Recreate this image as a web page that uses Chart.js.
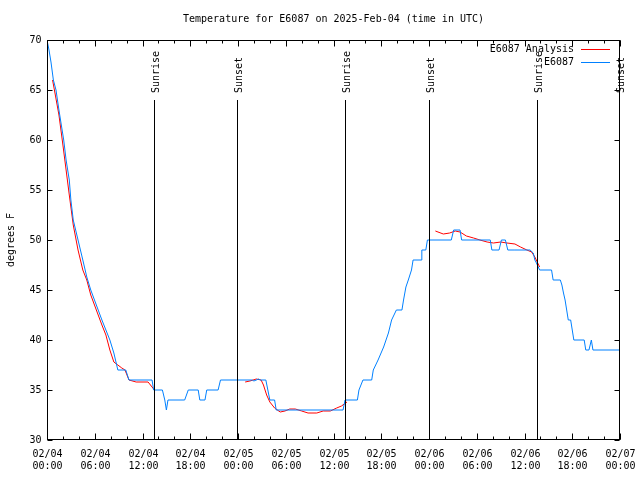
<!DOCTYPE html>
<html>
<head>
<meta charset="utf-8">
<script src="https://cdn.jsdelivr.net/npm/chart.js@4"></script>
<style>
  body { margin: 0; background: #fff; }
  #wrap { width: 640px; height: 480px; }
</style>
</head>
<body>
<div id="wrap"><canvas id="tempChart" width="640" height="480"></canvas></div>
<script>
// times are hours since 2025-02-04 00:00 UTC
var obsHours = [0, 0.25, 0.5, 0.8, 1.13, 1.5, 1.8, 2.1, 2.4, 2.8, 3.0, 3.3, 3.9, 4.5, 5.0, 5.5, 6.2, 6.9, 7.4, 7.9,
    8.4, 8.9, 9.9, 10.3, 13.2, 13.4, 14.5, 14.8, 15.0, 15.2, 17.3, 17.75, 19.0, 19.2, 19.85, 20.07, 21.5, 21.8,
    25.8, 26.0, 26.6, 26.8, 27.5, 28.0, 28.6, 28.8, 37.2, 37.45, 39.0, 39.2, 39.7, 40.8, 41.0, 41.6, 42.3, 42.9,
    43.3, 43.9, 44.6, 44.8, 45.1, 45.4, 45.8, 46.0, 47.0, 47.1, 47.6, 47.8, 50.8, 51.1, 51.9, 52.1, 55.7, 55.9,
    56.8, 57.1, 57.6, 57.9, 58.8, 60.7, 61.1, 61.3, 61.5, 61.9, 63.4, 63.6, 64.5, 64.7, 64.9, 65.1, 65.3, 65.5,
    65.8, 66.0, 66.2, 67.5, 67.7, 68.1, 68.4, 68.6, 72];
var obsTemps = [70, 69, 67.8, 66, 65, 63, 61.5, 60, 58, 56, 54, 52, 50, 48, 46.3, 45, 43.5, 42, 41, 40,
    38.7, 37, 37, 36, 36, 35, 35, 34, 33, 34, 34, 35, 35, 34, 34, 35, 35, 36,
    36, 35.9, 36.1, 36, 36, 34, 34, 33, 33, 34, 34, 35, 36, 36, 37, 38, 39.3, 40.7,
    42, 43, 43, 44, 45.3, 46, 47, 48, 48, 49, 49, 50, 50, 51, 51, 50, 50, 49,
    49, 50, 50, 49, 49, 49, 48.7, 48, 47.7, 47, 47, 46, 46, 45.5, 44.7, 44, 43, 42,
    42, 41, 40, 40, 39, 39, 40, 39, 39];

var anaHours = [0.7, 1.0, 1.5, 2.0, 2.4, 2.8, 3.3, 3.9, 4.5, 5.0, 5.5, 6.2, 6.9, 7.4, 7.9, 8.4, 8.9, 9.4, 9.8,
    10.3, 11.2, 12.7, 12.9, 13.4, 19,
    24.9, 25.5, 26.3, 26.9, 27.2, 27.6, 28.0, 28.6, 29.3, 29.9, 30.5, 31.2, 32.0, 32.8, 33.9, 34.7, 35.6,
    36.4, 37.0, 37.7, 43,
    48.8, 49.8, 50.6, 51.3, 51.9, 52.7, 53.6, 54.4, 55.3, 56.1, 57.0, 57.8, 58.8, 59.5, 60.3, 60.9, 61.3, 61.9];
var anaTemps = [66, 64.7, 62.5, 59.5, 57, 54.5, 51.5, 49, 47, 46, 44.5, 43, 41.5, 40.5, 39, 37.8, 37.5, 37.2, 37,
    36, 35.8, 35.8, 35.6, 35.1, null,
    35.8, 35.9, 36.1, 36, 35.5, 34.5, 33.8, 33.2, 32.8, 32.9, 33.1, 33.1, 32.9, 32.7, 32.7, 32.9, 32.9,
    33.2, 33.4, 33.8, null,
    50.9, 50.6, 50.7, 50.9, 50.8, 50.4, 50.2, 50.0, 49.8, 49.7, 49.8, 49.7, 49.6, 49.3, 49.0, 48.8, 48.3, 47.3];

var sunHours = [13.48, 23.86, 37.43, 48.0, 61.6, 72.0];
var sunLabels = ['Sunrise', 'Sunset', 'Sunrise', 'Sunset', 'Sunrise', 'Sunset'];

var yTicks = [30, 35, 40, 45, 50, 55, 60, 65, 70];
var xTickHours = [0, 6, 12, 18, 24, 30, 36, 42, 48, 54, 60, 66, 72];
var xTickDates = ['02/04', '02/04', '02/04', '02/04', '02/05', '02/05', '02/05', '02/05', '02/06', '02/06', '02/06', '02/06', '02/07'];
var xTickTimes = ['00:00', '06:00', '12:00', '18:00', '00:00', '06:00', '12:00', '18:00', '00:00', '06:00', '12:00', '18:00', '00:00'];

var seriesNames = ['E6087 Analysis', 'E6087'];
var seriesColors = ['#ff0000', '#0080ff'];

var titleText = 'Temperature for E6087 on 2025-Feb-04 (time in UTC)';
var yTitle = 'degrees F';

function toPoints(xs, ys) {
    return xs.map(function (h, i) { return { x: h, y: ys[i] }; });
}

var FONT = '10px "DejaVu Sans Mono", monospace';

var gnuplotFrame = {
    id: 'gnuplotFrame',
    afterDraw: function (chart) {
        var c = chart.ctx;
        var a = chart.chartArea;
        var xs = chart.scales.x, ys = chart.scales.y;
        var L = Math.round(a.left) + 0.5, R = Math.round(a.right) - 0.5;
        var T = Math.round(a.top) + 0.5, B = Math.round(a.bottom) - 0.5;
        c.save();
        c.strokeStyle = '#000';
        c.fillStyle = '#000';
        c.lineWidth = 1;
        c.font = FONT;

        // sunrise / sunset markers
        sunHours.forEach(function (h, i) {
            var px = Math.round(xs.getPixelForValue(h)) + 0.5;
            if (px > R) px = R;
            c.beginPath();
            c.moveTo(px, Math.round(ys.getPixelForValue(64)));
            c.lineTo(px, B);
            c.stroke();
            c.save();
            c.translate(px + 4, ys.getPixelForValue(64.7));
            c.rotate(-Math.PI / 2);
            c.textAlign = 'left';
            c.textBaseline = 'alphabetic';
            c.fillText(sunLabels[i], 0, 0);
            c.restore();
        });

        // frame
        c.strokeRect(L, T, R - L, B - T);

        // y ticks, inward on both sides
        c.textAlign = 'right';
        c.textBaseline = 'middle';
        yTicks.forEach(function (v) {
            var py = Math.round(ys.getPixelForValue(v)) + 0.5;
            c.beginPath();
            c.moveTo(L, py); c.lineTo(L + 5, py);
            c.moveTo(R, py); c.lineTo(R - 5, py);
            c.stroke();
            c.fillText(String(v), L - 6, py);
        });

        // x minor ticks every 2 h
        for (var h = xs.min; h <= xs.max; h += 2) {
            var mx = Math.round(xs.getPixelForValue(h)) + 0.5;
            c.beginPath();
            c.moveTo(mx, B); c.lineTo(mx, B - 3);
            c.moveTo(mx, T); c.lineTo(mx, T + 3);
            c.stroke();
        }
        // x major ticks and labels
        c.textAlign = 'center';
        xTickHours.forEach(function (hh, i) {
            var px = Math.round(xs.getPixelForValue(hh)) + 0.5;
            c.beginPath();
            c.moveTo(px, B); c.lineTo(px, B - 6);
            c.moveTo(px, T); c.lineTo(px, T + 6);
            c.stroke();
            c.fillText(xTickDates[i], px, B + 15);
            c.fillText(xTickTimes[i], px, B + 27);
        });

        // title
        c.fillText(titleText, (a.left + a.right) / 2, 19);

        // y axis title
        c.save();
        c.translate(11, (a.top + a.bottom) / 2);
        c.rotate(-Math.PI / 2);
        c.textAlign = 'center';
        c.fillText(yTitle, 0, 0);
        c.restore();

        // key
        c.textAlign = 'right';
        seriesNames.forEach(function (name, i) {
            var ky = 49 + i * 13;
            c.fillStyle = '#000';
            c.fillText(name, 574, ky);
            c.strokeStyle = seriesColors[i];
            c.beginPath();
            c.moveTo(581, ky + 0.5); c.lineTo(610, ky + 0.5);
            c.stroke();
        });
        c.restore();
    }
};

var ctx = document.getElementById('tempChart').getContext('2d');
var tempChart = new Chart(ctx, {
    type: 'line',
    data: {
        datasets: [{
            label: seriesNames[0],
            data: toPoints(anaHours, anaTemps),
            borderColor: seriesColors[0],
            borderWidth: 1,
            pointRadius: 0,
            spanGaps: false,
            order: 1
        },
        {
            label: seriesNames[1],
            data: toPoints(obsHours, obsTemps),
            borderColor: seriesColors[1],
            borderWidth: 1,
            pointRadius: 0,
            order: 0
        }]
    },
    options: {
        responsive: false,
        animation: false,
        layout: { padding: { left: 47, right: 20, top: 40, bottom: 40 } },
        plugins: {
            legend: { display: false },
            tooltip: { enabled: false },
            title: { display: false }
        },
        scales: {
            x: { type: 'linear', min: 0, max: 72, display: false },
            y: { type: 'linear', min: 30, max: 70, display: false }
        }
    },
    plugins: [gnuplotFrame]
});
</script>
</body>
</html>
